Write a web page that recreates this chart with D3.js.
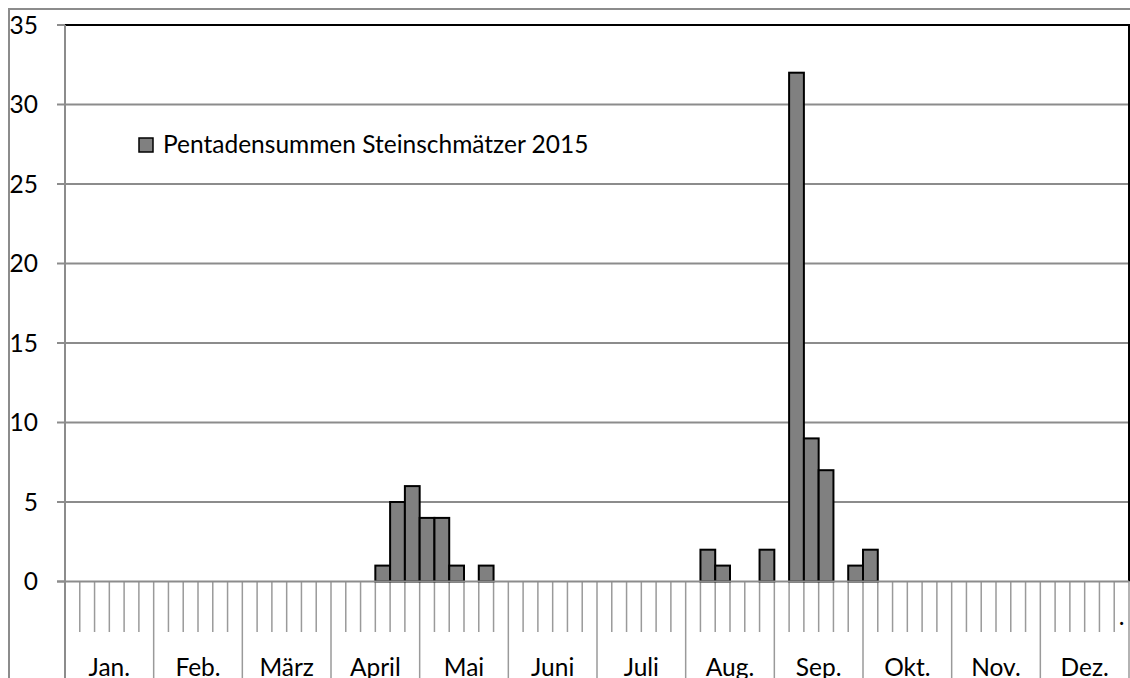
<!DOCTYPE html>
<html>
<head>
<meta charset="utf-8">
<script src="https://cdn.jsdelivr.net/npm/d3@7"></script>
<style>
  body { margin: 0; background: #fff; }
  text { font-family: Lato, "Open Sans", sans-serif; fill: #000; }
</style>
</head>
<body>
<div id="chart"></div>
<script>
// Pentadensummen, 6 Pentaden je Monat (72)
var months = ["Jan.", "Feb.", "März", "April", "Mai", "Juni", "Juli", "Aug.", "Sep.", "Okt.", "Nov.", "Dez."];
var pentadValues = [
  0, 0, 0, 0, 0, 0,   // Jan
  0, 0, 0, 0, 0, 0,   // Feb
  0, 0, 0, 0, 0, 0,   // März
  0, 0, 0, 1, 5, 6,   // April
  4, 4, 1, 0, 1, 0,   // Mai
  0, 0, 0, 0, 0, 0,   // Juni
  0, 0, 0, 0, 0, 0,   // Juli
  0, 2, 1, 0, 0, 2,   // Aug
  0, 32, 9, 7, 0, 1,  // Sep
  2, 0, 0, 0, 0, 0,   // Okt
  0, 0, 0, 0, 0, 0,   // Nov
  0, 0, 0, 0, 0, 0    // Dez
];
var yTicks = [0, 5, 10, 15, 20, 25, 30, 35];
var seriesName = "Pentadensummen Steinschmätzer 2015";

(function(){
  var width = 1130, height = 678;
  var left = 65, right = 1129, top = 25, zeroY = 581.5;
  var fs = 24.5;

  var svg = d3.select("#chart")
    .append("svg")
    .attr("width", width)
    .attr("height", height);

  var x = d3.scaleBand()
    .domain(d3.range(pentadValues.length))
    .range([left, right])
    .padding(0);

  var xMonth = d3.scaleBand()
    .domain(months)
    .range([left, right])
    .padding(0);

  var y = d3.scaleLinear()
    .domain([0, 35])
    .range([zeroY, top]);

  // outer chart frame
  svg.append("path")
    .attr("d", "M9," + height + "V9H" + width)
    .attr("fill", "none")
    .attr("stroke", "#8c8c8c")
    .attr("stroke-width", 2);

  // grid lines
  svg.selectAll(".grid")
    .data(yTicks.filter(function(d){ return d > 0 && d < 35; }))
    .enter().append("line")
    .attr("class", "grid")
    .attr("x1", left - 8)
    .attr("x2", right)
    .attr("y1", function(d){ return y(d); })
    .attr("y2", function(d){ return y(d); })
    .attr("stroke", "#8c8c8c")
    .attr("stroke-width", 2);

  // y tick at 35 and 0
  svg.selectAll(".ytick")
    .data([0, 35])
    .enter().append("line")
    .attr("x1", left - 8)
    .attr("x2", left)
    .attr("y1", function(d){ return y(d); })
    .attr("y2", function(d){ return y(d); })
    .attr("stroke", "#8c8c8c")
    .attr("stroke-width", 2);

  // y labels
  svg.selectAll(".ylbl")
    .data(yTicks)
    .enter().append("text")
    .attr("class", "ylbl")
    .attr("x", 38)
    .attr("y", function(d){ return y(d); })
    .attr("dy", "0.36em")
    .attr("text-anchor", "end")
    .attr("font-size", fs)
    .text(function(d){ return d; });

  // plot border top/right (black)
  svg.append("path")
    .attr("d", "M" + left + "," + top + "H" + right + "V" + zeroY)
    .attr("fill", "none")
    .attr("stroke", "#000")
    .attr("stroke-width", 2);

  // pentad ticks
  var bounds = d3.range(1, pentadValues.length);
  svg.selectAll(".ptick")
    .data(bounds.filter(function(i){ return i % 6 !== 0; }))
    .enter().append("line")
    .attr("class", "ptick")
    .attr("x1", function(i){ return x(i); })
    .attr("x2", function(i){ return x(i); })
    .attr("y1", zeroY)
    .attr("y2", 632)
    .attr("stroke", "#9a9a9a")
    .attr("stroke-width", 1.5);

  // month separators
  var monthBounds = months.map(function(m){ return xMonth(m); }).concat([right]);
  svg.selectAll(".mtick")
    .data(monthBounds)
    .enter().append("line")
    .attr("class", "mtick")
    .attr("x1", function(d){ return d; })
    .attr("x2", function(d){ return d; })
    .attr("y1", zeroY)
    .attr("y2", height)
    .attr("stroke", "#9a9a9a")
    .attr("stroke-width", 1.5);

  // left axis
  svg.append("line")
    .attr("x1", left).attr("x2", left)
    .attr("y1", top).attr("y2", height)
    .attr("stroke", "#8c8c8c")
    .attr("stroke-width", 2);

  // month labels (cut at the bottom edge, as in the source)
  svg.selectAll(".mlbl")
    .data(months)
    .enter().append("text")
    .attr("class", "mlbl")
    .attr("x", function(m){ return xMonth(m) + xMonth.bandwidth() / 2; })
    .attr("y", 676)
    .attr("text-anchor", "middle")
    .attr("font-size", fs)
    .text(function(m){ return m; });

  // the lone "." pentad label
  svg.append("text")
    .attr("x", x(pentadValues.length - 1) + x.bandwidth() / 2)
    .attr("y", 625)
    .attr("text-anchor", "middle")
    .attr("font-size", 20)
    .attr("font-weight", "bold")
    .text(".");

  // bars
  var data = pentadValues.map(function(v, i){ return {i: i, v: v}; })
    .filter(function(d){ return d.v > 0; });

  svg.selectAll(".bar")
    .data(data)
    .enter().append("rect")
    .attr("class", "bar")
    .attr("x", function(d){ return x(d.i); })
    .attr("width", x.bandwidth())
    .attr("y", function(d){ return y(d.v); })
    .attr("height", function(d){ return zeroY - y(d.v); })
    .attr("fill", "#808080")
    .attr("stroke", "#000")
    .attr("stroke-width", 2);

  // zero line
  svg.append("line")
    .attr("x1", left - 8).attr("x2", right)
    .attr("y1", zeroY).attr("y2", zeroY)
    .attr("stroke", "#8c8c8c")
    .attr("stroke-width", 2);

  // legend
  var lg = svg.append("g").attr("transform", "translate(139,138)");
  lg.append("rect")
    .attr("width", 14).attr("height", 14)
    .attr("fill", "#808080")
    .attr("stroke", "#000")
    .attr("stroke-width", 1.5);
  lg.append("text")
    .attr("x", 24)
    .attr("y", 14.5)
    .attr("font-size", fs)
    .text(seriesName);
})();
</script>
</body>
</html>
